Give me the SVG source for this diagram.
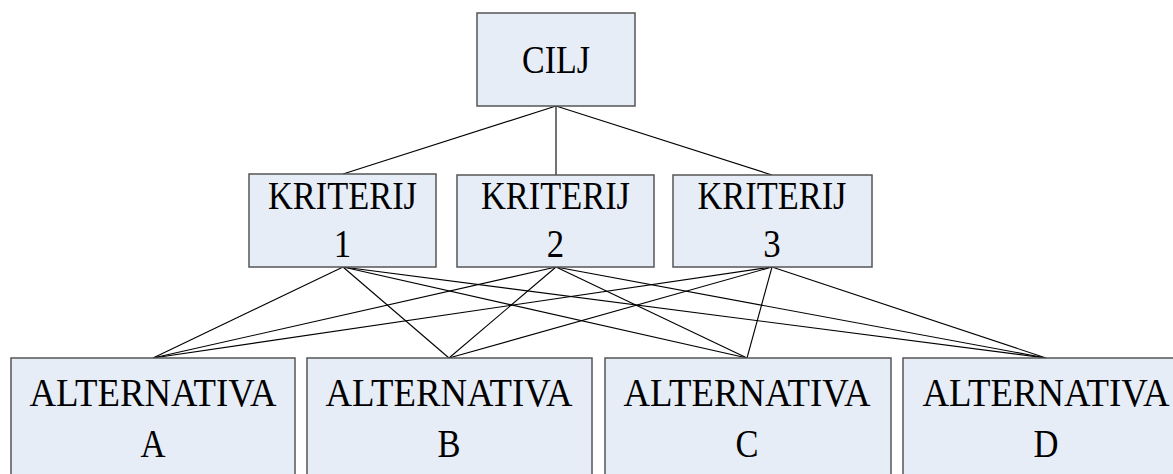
<svg xmlns="http://www.w3.org/2000/svg" width="1173" height="474" viewBox="0 0 1173 474">
<style>
.box{fill:#e7edf7;stroke:#555;stroke-width:1.5}
.t{font-family:"Liberation Serif","Times New Roman",serif;font-size:40px;fill:#000;text-anchor:middle}
.c line{stroke:#000;stroke-width:1.1}
</style>
<rect width="1173" height="474" fill="#fff"/>
<g class="c" id="connectors">
<line x1="556" y1="106" x2="343" y2="174"/>
<line x1="556" y1="106" x2="556" y2="175"/>
<line x1="556" y1="106" x2="772" y2="175"/>
<line x1="343" y1="267" x2="153" y2="358"/>
<line x1="343" y1="267" x2="449" y2="358"/>
<line x1="343" y1="267" x2="747" y2="358"/>
<line x1="343" y1="267" x2="1046" y2="358"/>
<line x1="556" y1="267" x2="153" y2="358"/>
<line x1="556" y1="267" x2="449" y2="358"/>
<line x1="556" y1="267" x2="747" y2="358"/>
<line x1="556" y1="267" x2="1046" y2="358"/>
<line x1="772" y1="267" x2="153" y2="358"/>
<line x1="772" y1="267" x2="449" y2="358"/>
<line x1="772" y1="267" x2="747" y2="358"/>
<line x1="772" y1="267" x2="1046" y2="358"/>
</g>
<g id="cilj">
<rect class="box" x="477" y="13" width="158" height="93"/>
<text class="t" x="556" y="73" textLength="68" lengthAdjust="spacingAndGlyphs">CILJ</text>
</g>
<g id="k1">
<rect class="box" x="249" y="174" width="187" height="93"/>
<text class="t" x="342.5" y="209" textLength="149" lengthAdjust="spacingAndGlyphs">KRITERIJ</text>
<text class="t" x="342.5" y="257" textLength="17.4" lengthAdjust="spacingAndGlyphs">1</text>
</g>
<g id="k2">
<rect class="box" x="457" y="175" width="197" height="92"/>
<text class="t" x="555.5" y="209" textLength="149" lengthAdjust="spacingAndGlyphs">KRITERIJ</text>
<text class="t" x="555.5" y="257" textLength="17.4" lengthAdjust="spacingAndGlyphs">2</text>
</g>
<g id="k3">
<rect class="box" x="673" y="175" width="199" height="92"/>
<text class="t" x="772" y="209" textLength="149" lengthAdjust="spacingAndGlyphs">KRITERIJ</text>
<text class="t" x="772" y="257" textLength="17.4" lengthAdjust="spacingAndGlyphs">3</text>
</g>
<g id="altA">
<rect class="box" x="11" y="358" width="284" height="130"/>
<text class="t" x="153" y="406" textLength="247" lengthAdjust="spacingAndGlyphs">ALTERNATIVA</text>
<text class="t" x="153" y="457" textLength="25" lengthAdjust="spacingAndGlyphs">A</text>
</g>
<g id="altB">
<rect class="box" x="307" y="358" width="285" height="130"/>
<text class="t" x="449" y="406" textLength="247" lengthAdjust="spacingAndGlyphs">ALTERNATIVA</text>
<text class="t" x="449" y="457" textLength="23" lengthAdjust="spacingAndGlyphs">B</text>
</g>
<g id="altC">
<rect class="box" x="605" y="358" width="286" height="130"/>
<text class="t" x="747" y="406" textLength="247" lengthAdjust="spacingAndGlyphs">ALTERNATIVA</text>
<text class="t" x="747" y="457" textLength="23" lengthAdjust="spacingAndGlyphs">C</text>
</g>
<g id="altD">
<rect class="box" x="903" y="358" width="286" height="130"/>
<text class="t" x="1046" y="406" textLength="247" lengthAdjust="spacingAndGlyphs">ALTERNATIVA</text>
<text class="t" x="1046" y="457" textLength="25" lengthAdjust="spacingAndGlyphs">D</text>
</g>
</svg>
